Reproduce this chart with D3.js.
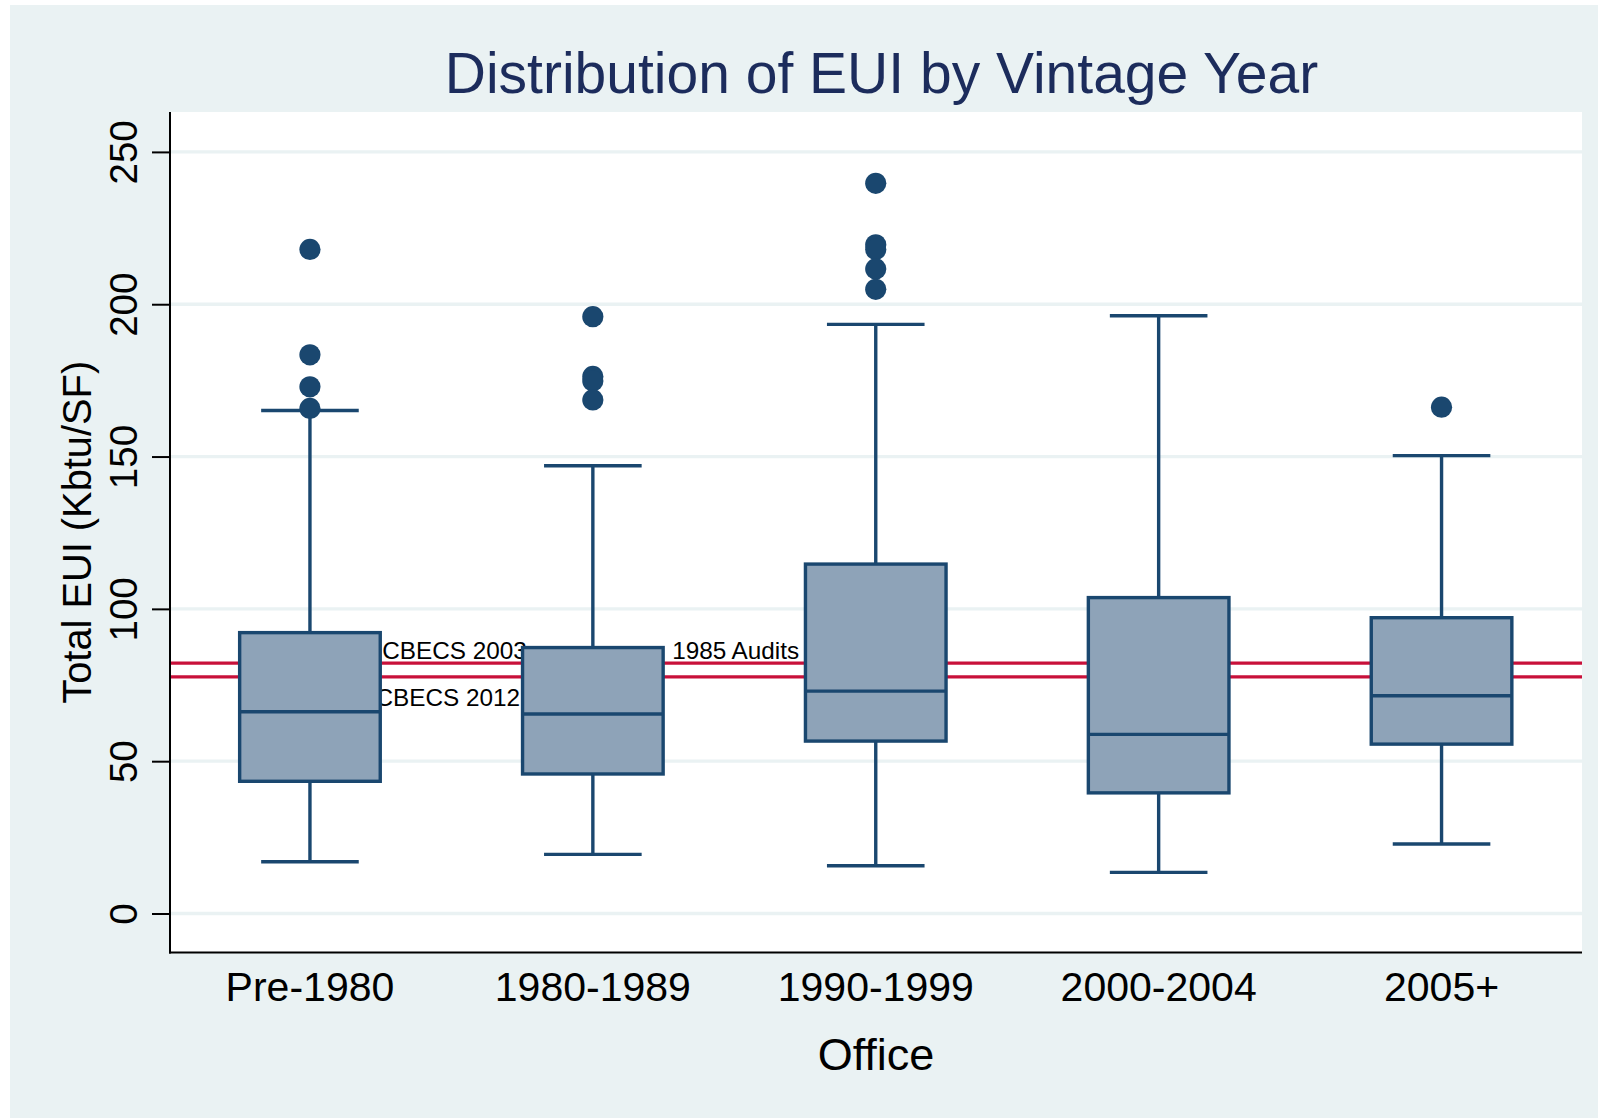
<!DOCTYPE html>
<html>
<head>
<meta charset="utf-8">
<script src="https://cdn.jsdelivr.net/npm/d3@7"></script>
<style>
  html, body { margin: 0; padding: 0; background: #ffffff; }
  svg { display: block; }
  text { font-family: "Liberation Sans", Arial, Helvetica, sans-serif; }
</style>
</head>
<body>
<svg id="chart" width="1598" height="1119"></svg>
<script>
// ---- Data ----
const categories = ["Pre-1980", "1980-1989", "1990-1999", "2000-2004", "2005+"];
const whiskerLow  = [17.0, 19.4, 15.7, 13.5, 22.8];
const q1          = [43.4, 45.8, 56.6, 39.6, 55.6];
const medians     = [66.25, 65.5, 73.0, 58.8, 71.5];
const q3          = [92.2, 87.3, 114.7, 103.7, 97.1];
const whiskerHigh = [165.1, 147.0, 193.4, 196.2, 150.3];
const outliers = [
  [218.0, 183.4, 172.9, 165.8],
  [195.9, 176.3, 174.8, 168.6],
  [239.7, 219.5, 218.0, 211.6, 204.9],
  [],
  [166.2]
];
const yTicks = [0, 50, 100, 150, 200, 250];
const refValues = [82.2, 77.7];
const refLabels = ["CBECS 2003", "1985 Audits", "CBECS 2012"];

const titleText = "Distribution of EUI by Vintage Year";
const xTitle = "Office";
const yTitle = "Total EUI (Kbtu/SF)";

// ---- Layout ----
const W = 1598, H = 1119;
const plot = { left: 170, right: 1582, top: 112, bottom: 952.5 };
const navy = "#1a476f";
const boxFill = "#8ea3b8";
const bg = "#eaf2f3";
const red = "#c8103a";

const svg = d3.select("#chart");

// outer background
svg.append("rect").attr("x", 10).attr("y", 5).attr("width", W - 10).attr("height", 1113).attr("fill", bg);
// plot region
svg.append("rect").attr("x", plot.left).attr("y", plot.top)
  .attr("width", plot.right - plot.left).attr("height", plot.bottom - plot.top).attr("fill", "#ffffff");

const x = d3.scaleBand().domain(categories).range([168.5, 1583]).paddingInner(0).paddingOuter(0);
const y = d3.scaleLinear().domain([-12.8, 263.1]).range([plot.bottom, plot.top]);

const step = x.step();
const boxW = step * 0.497;
const capW = step * 0.345;
const cx = c => x(c) + x.bandwidth() / 2;

// gridlines
svg.append("g").selectAll("line").data(yTicks).join("line")
  .attr("x1", plot.left).attr("x2", plot.right)
  .attr("y1", d => y(d)).attr("y2", d => y(d))
  .attr("stroke", bg).attr("stroke-width", 3.3);

// reference lines
svg.append("g").selectAll("line").data(refValues).join("line")
  .attr("x1", plot.left).attr("x2", plot.right)
  .attr("y1", d => y(d)).attr("y2", d => y(d))
  .attr("stroke", red).attr("stroke-width", 3.2);

// reference labels
const labelG = svg.append("g").attr("font-size", 24.3).attr("fill", "#000");
labelG.append("text").text(refLabels[0])
  .attr("x", cx(categories[0]) + boxW / 2 + 2).attr("y", y(refValues[0]) - 4);
labelG.append("text").text(refLabels[1])
  .attr("x", cx(categories[1]) + boxW / 2 + 9).attr("y", y(refValues[0]) - 4);
labelG.append("text").text(refLabels[2]).attr("text-anchor", "end")
  .attr("x", cx(categories[1]) - boxW / 2 - 2.5).attr("y", y(refValues[1]) + 29);

// boxes
const rows = categories.map((c, i) => ({
  c, lo: whiskerLow[i], q1: q1[i], med: medians[i], q3: q3[i], hi: whiskerHigh[i], out: outliers[i]
}));

const bx = svg.append("g").attr("stroke", navy).attr("stroke-width", 3.4);
const g = bx.selectAll("g").data(rows).join("g");

// whiskers
g.append("line").attr("x1", d => cx(d.c)).attr("x2", d => cx(d.c))
  .attr("y1", d => y(d.q3)).attr("y2", d => y(d.hi));
g.append("line").attr("x1", d => cx(d.c)).attr("x2", d => cx(d.c))
  .attr("y1", d => y(d.q1)).attr("y2", d => y(d.lo));
// caps
g.append("line").attr("x1", d => cx(d.c) - capW / 2).attr("x2", d => cx(d.c) + capW / 2)
  .attr("y1", d => y(d.hi)).attr("y2", d => y(d.hi));
g.append("line").attr("x1", d => cx(d.c) - capW / 2).attr("x2", d => cx(d.c) + capW / 2)
  .attr("y1", d => y(d.lo)).attr("y2", d => y(d.lo));
// box
g.append("rect").attr("x", d => cx(d.c) - boxW / 2).attr("width", boxW)
  .attr("y", d => y(d.q3)).attr("height", d => y(d.q1) - y(d.q3))
  .attr("fill", boxFill);
// median
g.append("line").attr("x1", d => cx(d.c) - boxW / 2).attr("x2", d => cx(d.c) + boxW / 2)
  .attr("y1", d => y(d.med)).attr("y2", d => y(d.med));
// outliers
g.selectAll("circle").data(d => d.out.map(v => ({ c: d.c, v }))).join("circle")
  .attr("cx", d => cx(d.c)).attr("cy", d => y(d.v)).attr("r", 10.6)
  .attr("fill", navy).attr("stroke", "none");

// y axis
const yAxis = d3.axisLeft(y).tickValues(yTicks).tickSize(18).tickPadding(15).tickFormat(d3.format("d"));
const ya = svg.append("g").attr("transform", `translate(${plot.left},0)`).call(yAxis);
ya.select(".domain").remove();
ya.selectAll(".tick line").attr("stroke", "#000").attr("stroke-width", 2);
ya.selectAll(".tick text")
  .attr("font-size", 38.5).attr("fill", "#000")
  .attr("text-anchor", "middle")
  .attr("x", 0).attr("dy", null)
  .attr("transform", "translate(-33.5,0) rotate(-90)")
  .attr("y", 0);
svg.append("line").attr("x1", plot.left).attr("x2", plot.left)
  .attr("y1", plot.top).attr("y2", plot.bottom + 1).attr("stroke", "#000").attr("stroke-width", 2);

// x axis (labels only, no ticks)
const xAxis = d3.axisBottom(x).tickSize(0).tickPadding(0);
const xa = svg.append("g").attr("transform", `translate(0,${plot.bottom})`).call(xAxis);
xa.select(".domain").remove();
xa.selectAll(".tick text").attr("font-size", 41).attr("fill", "#000")
  .attr("y", 48.5).attr("dy", null);
svg.append("line").attr("x1", plot.left - 1).attr("x2", plot.right)
  .attr("y1", plot.bottom).attr("y2", plot.bottom).attr("stroke", "#000").attr("stroke-width", 2);

// titles
svg.append("text").text(titleText).attr("x", 881.5).attr("y", 93.3)
  .attr("text-anchor", "middle").attr("font-size", 57).attr("fill", "#1c2c5c");
svg.append("text").text(xTitle).attr("x", (plot.left + plot.right) / 2).attr("y", 1070)
  .attr("text-anchor", "middle").attr("font-size", 45).attr("fill", "#000");
svg.append("text").text(yTitle)
  .attr("transform", `translate(91,${(plot.top + plot.bottom) / 2}) rotate(-90)`)
  .attr("text-anchor", "middle").attr("font-size", 39.8).attr("fill", "#000");
</script>
</body>
</html>
